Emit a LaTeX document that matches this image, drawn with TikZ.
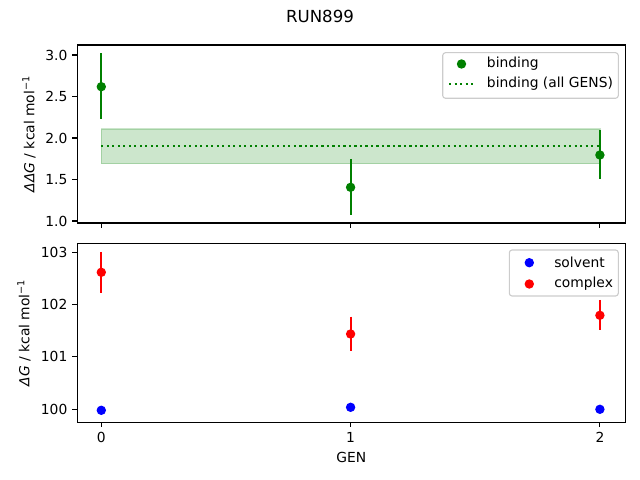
\documentclass[tikz,border=0pt]{standalone}
\usepackage{fontspec}
\setmainfont{DejaVu Sans}
\definecolor{mplgreen}{RGB}{0,128,0}
\definecolor{mplblue}{RGB}{0,0,255}
\definecolor{mplred}{RGB}{255,0,0}
\begin{document}
\begin{tikzpicture}[x=0.01in,y=-0.01in,font=\fontsize{10}{12}\selectfont,
  spine/.style={line width=0.8pt},
  tickmark/.style={line width=0.8pt},
  ticklab/.style={inner sep=0pt},
  errbar/.style={line width=1.5pt},
  dot/.style={circle,inner sep=0pt,minimum size=6.8pt,fill=#1},
  legbox/.style={draw=black!20,fill=white,fill opacity=0.8,rounded corners=2pt,line width=0.8pt},
  band/.style={fill=mplgreen,fill opacity=0.2,draw=mplgreen,draw opacity=0.2,line width=1pt},
  dotline/.style={draw=mplgreen,line width=1.5pt,dash pattern=on 1.5pt off 2.475pt}]
\useasboundingbox (0,0) rectangle (640,480);

% title
\node (title) at (320,16) {\fontsize{12}{14}\selectfont RUN899};

% ================= top axes =================
\fill[band] (101.3,129.0) rectangle (599.9,163.7);
\coordinate (bandL) at (101.3,145.7);
\coordinate (bandR) at (599.9,145.7);
\draw[dotline] (bandL) -- (bandR);

% error bars and points (binding)
\coordinate (g0t) at (101.3,53.3);  \coordinate (g0b) at (101.3,119.3);
\coordinate (g1t) at (350.6,159.0); \coordinate (g1b) at (350.6,214.7);
\coordinate (g2t) at (599.9,130.0); \coordinate (g2b) at (599.9,179.3);
\draw[errbar,mplgreen] (g0t) -- (g0b);
\draw[errbar,mplgreen] (g1t) -- (g1b);
\draw[errbar,mplgreen] (g2t) -- (g2b);
\node[dot=mplgreen] (b0) at (101.3,86.7) {};
\node[dot=mplgreen] (b1) at (350.6,187.3) {};
\node[dot=mplgreen] (b2) at (599.9,155.0) {};

\draw[spine] (77.3,45) rectangle (625.5,223);
% y ticks top
\foreach \lab/\py [count=\i] in {1.0/221,1.5/179.5,2.0/138,2.5/96.5,3.0/55}{
  \draw[tickmark] (77.3,\py) -- (72.4,\py);
  \node[ticklab,anchor=east] (ytA\i) at (67.6,\py) {\lab};
}
% x ticks top (no labels)
\foreach \px in {101.3,350.6,599.9}{
  \draw[tickmark] (\px,223) -- (\px,227.9);
}
\node[rotate=90,anchor=south,inner sep=0pt] (ylabA) at (36,134)
  {\textit{ΔΔG} / kcal mol\textsuperscript{−1}};

% legend top
\draw[legbox] (442.7,52.7) rectangle (618.3,98.3);
\node[dot=mplgreen] (legA1) at (461.5,64) {};
\node[anchor=west,inner sep=0pt] (legA1t) at (486.7,64) {binding};
\coordinate (legA2l) at (449,84);
\coordinate (legA2r) at (476,84);
\draw[dotline] (legA2l) -- (legA2r);
\node[anchor=west,inner sep=0pt] (legA2t) at (486.7,84) {binding (all GENS)};

% ================= bottom axes =================
\coordinate (r0t) at (101.3,252.0);  \coordinate (r0b) at (101.3,292.7);
\coordinate (r1t) at (350.6,316.7);  \coordinate (r1b) at (350.6,350.7);
\coordinate (r2t) at (599.9,300.0);  \coordinate (r2b) at (599.9,330.0);
\draw[errbar,mplred] (r0t) -- (r0b);
\draw[errbar,mplred] (r1t) -- (r1b);
\draw[errbar,mplred] (r2t) -- (r2b);
\node[dot=mplred] (c0) at (101.3,272.3) {};
\node[dot=mplred] (c1) at (350.6,334.0) {};
\node[dot=mplred] (c2) at (599.9,315.3) {};
\node[dot=mplblue] (s0) at (101.3,410.3) {};
\node[dot=mplblue] (s1) at (350.6,407.3) {};
\node[dot=mplblue] (s2) at (599.9,409.3) {};

\draw[spine] (77.3,243.3) rectangle (625.5,422.3);
\foreach \lab/\py [count=\i] in {100/409.3,101/356.9,102/304.5,103/252.1}{
  \draw[tickmark] (77.3,\py) -- (72.4,\py);
  \node[ticklab,anchor=east] (ytB\i) at (67.6,\py) {\lab};
}
\foreach \lab/\px [count=\i] in {0/101.3,1/350.6,2/599.9}{
  \draw[tickmark] (\px,422.3) -- (\px,427.2);
  \node[ticklab,anchor=north] (xtB\i) at (\px,432.1) {\lab};
}
\node (xlab) at (351.4,457) {GEN};
\node[rotate=90,anchor=south,inner sep=0pt] (ylabB) at (31,332.8)
  {\textit{ΔG} / kcal mol\textsuperscript{−1}};

% legend bottom
\draw[legbox] (509.3,250) rectangle (618.3,296);
\node[dot=mplblue] (legB1) at (529.3,262.7) {};
\node[anchor=west,inner sep=0pt] (legB1t) at (554,262.7) {solvent};
\node[dot=mplred] (legB2) at (529.3,284) {};
\node[anchor=west,inner sep=0pt] (legB2t) at (554,284) {complex};
\end{tikzpicture}
\end{document}
